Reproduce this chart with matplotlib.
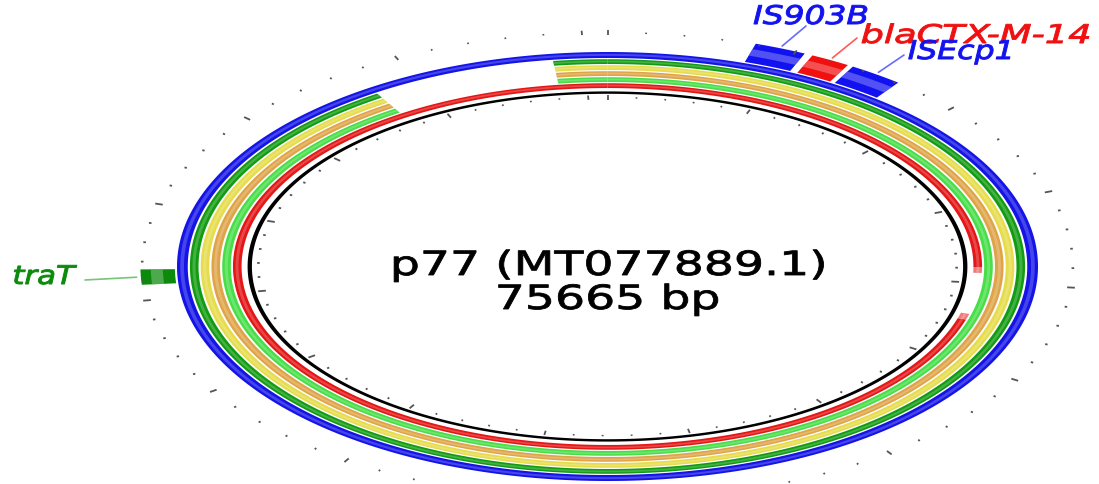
import numpy as np
import matplotlib
matplotlib.use("Agg")
import matplotlib.pyplot as plt
from matplotlib.patches import Polygon
from matplotlib.collections import LineCollection
from matplotlib import patheffects
from matplotlib.transforms import Affine2D

# plasmid and BLAST ring data (bp)
plasmid_name = "p77 (MT077889.1)"
plasmid_len = 75665

ring_backbone = [(0, 75665)]
ring_hit1 = [(0, 68630), (74090, 75665)]
ring_hit2 = [(0, 68630), (74090, 75665)]
ring_hit3 = [(0, 68630), (74090, 75665)]
ring_hit4 = [(0, 68630), (74090, 75665)]
ring_hit5 = [(0, 18950), (22450, 75665)]
ring_hit5_low = [(18950, 19340), (22070, 22450)]
ring_ref = [(0, 75665)]

feature_names = ["IS903B", "blaCTX-M-14", "ISEcp1", "traT"]
feature_start = [3890, 5470, 6660, 55810]
feature_end = [5250, 6510, 8090, 56600]

tick_step = 1000
major_step = 5000

# figure layout: map centre and radii in pixels (x stretched)
W, H = 1099, 485
cx_px, cy_px = 607.5, 267.5
rx_px, ry_px = 430.5, 214.5
band_y = 1.12  # radial offsets run a little deeper vertically

fig = plt.figure(figsize=(W / 100, H / 100), dpi=100)
ax = fig.add_axes([0, 0, 1, 1])
ax.set_xlim(-cx_px / rx_px, (W - cx_px) / rx_px)
ax.set_ylim(-(H - cy_px) / ry_px, cy_px / ry_px)
ax.axis("off")


def polar(bp, r):
    a = np.radians(np.asarray(bp) / plasmid_len * 360.0)
    ry = 1 + (r - 1) * band_y
    return r * np.sin(a), ry * np.cos(a)


def lighten(c, f):
    c = np.array(matplotlib.colors.to_rgb(c))
    return tuple(c + (1 - c) * f)


def band(s, e, r_in, r_out, **kw):
    bp = np.linspace(s, e, max(int((e - s) / 100), 8))
    xo, yo = polar(bp, r_out)
    xi, yi = polar(bp[::-1], r_in)
    pts = np.column_stack([np.r_[xo, xi], np.r_[yo, yi]])
    ax.add_patch(Polygon(pts, closed=True, edgecolor="none", **kw))


def draw_arc(segments, r_in, r_out, color, shine=0.35, z=1):
    w = r_out - r_in
    for s, e in segments:
        band(s, e, r_in, r_out, facecolor=color, zorder=z)
        band(s, e, r_in + 0.35 * w, r_in + 0.7 * w,
             facecolor=lighten(color, shine), alpha=0.6, zorder=z)


rings = [
    (ring_backbone, 0.975, 1.000, "#1414e6"),
    (ring_hit1, 0.950, 0.970, "#139c13"),
    (ring_hit2, 0.925, 0.945, "#e6dc4c"),
    (ring_hit3, 0.900, 0.920, "#e0a448"),
    (ring_hit4, 0.875, 0.895, "#48de48"),
    (ring_hit5, 0.850, 0.870, "#e41616"),
    (ring_hit5_low, 0.850, 0.870, "#f07a7a"),
]
for seg, r0, r1, col in rings:
    draw_arc(seg, r0, r1, col)
draw_arc(ring_ref, 0.826, 0.836, "black", shine=0.0)

# scale ticks, outside the backbone and inside the reference ring
ticks = np.arange(0, plasmid_len, tick_step)
segs = []
for t in ticks:
    big = t % major_step == 0
    for r0, r1 in [(1.078, 1.084), (0.808, 0.814)]:
        if big:
            r0, r1 = r0 - 0.006, r1 + 0.006
        segs.append([polar(t, r0), polar(t, r1)])
ax.add_collection(LineCollection(segs, colors="#555555", linewidths=1.3,
                                 zorder=3))

# annotated genes
feature_colors = ["#1212f0", "#f01010", "#1212f0", "#0b8a0b"]
line_colors = ["#6a6aff", "#ff5a5a", "#6a6aff", "#78c478"]
for s, e, col in zip(feature_start, feature_end, feature_colors):
    draw_arc([(s, e)], 1.005, 1.085, col, shine=0.45, z=2)


class Stretch(patheffects.AbstractPathEffect):
    """Widen text horizontally about its own centre, with a thin outline."""

    def __init__(self, sx, lw=0.6):
        super().__init__()
        self.sx = sx
        self.lw = lw

    def draw_path(self, renderer, gc, tpath, affine, rgbFace=None):
        ext = tpath.get_extents()
        mid = (ext.x0 + ext.x1) / 2
        tr = Affine2D().translate(-mid, 0).scale(self.sx, 1).translate(mid, 0)
        gc0 = renderer.new_gc()
        gc0.copy_properties(gc)
        gc0.set_linewidth(self.lw)
        gc0.set_foreground(rgbFace)
        gc0.set_joinstyle("round")
        renderer.draw_path(gc0, tpath, tr + affine, rgbFace)
        gc0.restore()


def img(x, y):
    return x / W, 1 - y / H


# label centre / baseline and leader start, in image pixels
label_pos = [(811, 25), (976, 44), (961, 60), (44, 285)]
leader_from = [(806, 27), (857, 39), (904, 56), (85, 281)]
label_sx = [1.28, 1.43, 1.23, 1.2]

for name, s, e, col, lcol, pos, lf, sx in zip(
        feature_names, feature_start, feature_end, feature_colors,
        line_colors, label_pos, leader_from, label_sx):
    ax.annotate("", xy=polar((s + e) / 2, 1.095), xycoords="data",
                xytext=img(*lf), textcoords="figure fraction",
                arrowprops=dict(arrowstyle="-", color=lcol, lw=1.2,
                                shrinkA=0, shrinkB=0))
    fig.text(*img(*pos), name, color=col, fontsize=18.5, style="italic",
             ha="center", va="baseline",
             path_effects=[Stretch(sx, 0.7)])

fig.text(*img(609, 276), plasmid_name, fontsize=24, ha="center",
         va="baseline", color="black", path_effects=[Stretch(1.42, 0.6)])
fig.text(*img(608, 310), f"{plasmid_len} bp", fontsize=24, ha="center",
         va="baseline", color="black", path_effects=[Stretch(1.42, 0.6)])

fig.savefig("out.png", dpi=100)
